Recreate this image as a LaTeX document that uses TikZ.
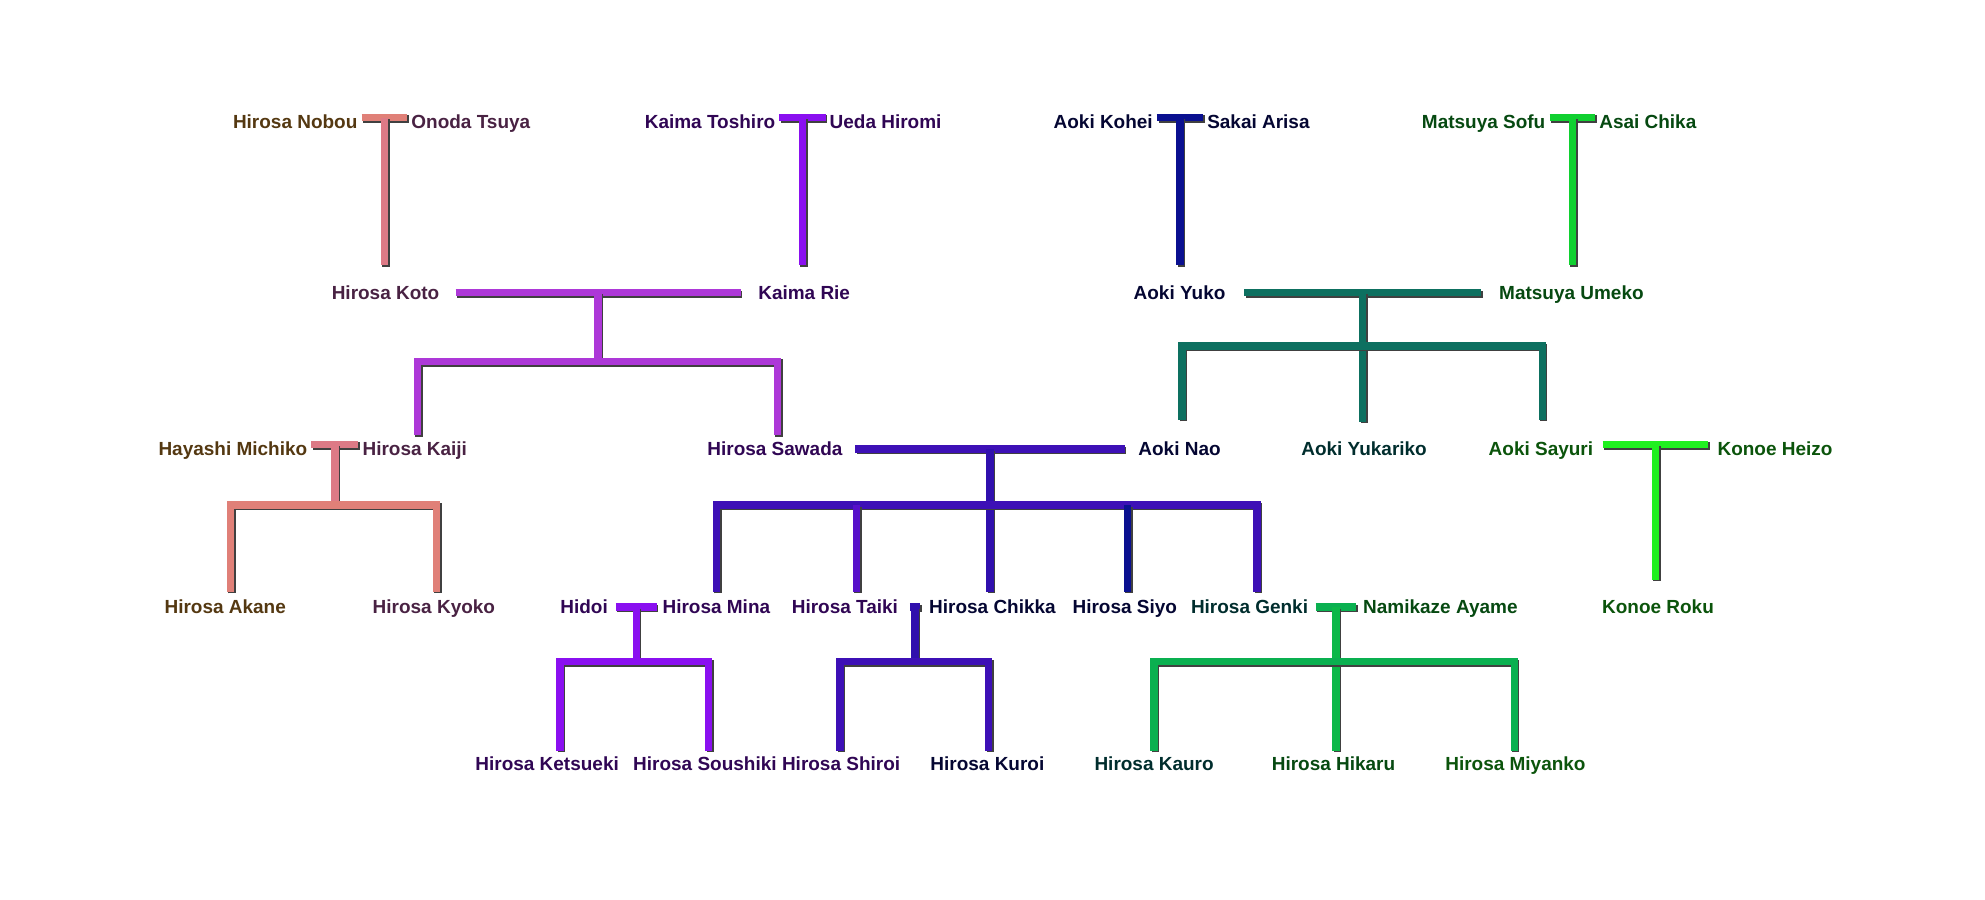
\documentclass[tikz,border=0pt]{standalone}
\usepackage{fontspec}
\setmainfont{Liberation Sans}
\usepackage{tikz}

\definecolor{nobou}{HTML}{F0A030}
\definecolor{tsuya}{HTML}{D060C0}
\definecolor{kaima}{HTML}{8A10F0}
\definecolor{aoki}{HTML}{0A1090}
\definecolor{matsu}{HTML}{10D030}
\definecolor{konoe}{HTML}{20F020}

\begin{document}
\begin{tikzpicture}[x=0.012724cm, y=-0.012724cm,
person/.style={font=\bfseries\fontsize{5.4}{7}\selectfont, text=#1!35!black, inner sep=1pt,
  text height=1.6ex, text depth=0.4ex, yshift=1.3pt},
bar/.style={line width=2.1pt, draw=#1,
  preaction={draw=black!75, line width=2.1pt, transform canvas={shift={(0.45pt,-0.45pt)}}}},
]
\useasboundingbox (0,0) rectangle (1560,707);

% Generation 1
\node[person=nobou] (nobou) at (232,96) {Hirosa Nobou};
\node[person=tsuya] (tsuya) at (370,96) {Onoda Tsuya};
\node[person=kaima] (toshiro) at (558,96) {Kaima Toshiro};
\node[person=kaima] (hiromi) at (696,96) {Ueda Hiromi};
\node[person=aoki] (kohei) at (867,96) {Aoki Kohei};
\node[person=aoki] (arisa) at (989,96) {Sakai Arisa};
\node[person=matsu] (sofu) at (1166,96) {Matsuya Sofu};
\node[person=matsu] (chika) at (1295,96) {Asai Chika};

% Generation 2
\node[person=tsuya] (koto) at (303,230) {Hirosa Koto};
\node[person=kaima] (rie) at (632,230) {Kaima Rie};
\node[person=aoki] (yuko) at (927,230) {Aoki Yuko};
\node[person=matsu] (umeko) at (1235,230) {Matsuya Umeko};

% Generation 3
\node[person=nobou] (michiko) at (183,353) {Hayashi Michiko};
\node[person=tsuya] (kaiji) at (326,353) {Hirosa Kaiji};
\node[person=kaima] (sawada) at (609,353) {Hirosa Sawada};
\node[person=aoki] (nao) at (927,353) {Aoki Nao};
\node[person=teal] (yukariko) at (1072,353) {Aoki Yukariko};
\node[person=konoe] (sayuri) at (1211,353) {Aoki Sayuri};
\node[person=konoe] (heizo) at (1395,353) {Konoe Heizo};

% Generation 4
\node[person=nobou] (akane) at (177,477) {Hirosa Akane};
\node[person=tsuya] (kyoko) at (341,477) {Hirosa Kyoko};
\node[person=kaima] (hidoi) at (459,477) {Hidoi};
\node[person=kaima] (mina) at (563,477) {Hirosa Mina};
\node[person=kaima] (taiki) at (664,477) {Hirosa Taiki};
\node[person=aoki] (chikka) at (780,477) {Hirosa Chikka};
\node[person=aoki] (siyo) at (884,477) {Hirosa Siyo};
\node[person=teal] (genki) at (982,477) {Hirosa Genki};
\node[person=matsu] (ayame) at (1132,477) {Namikaze Ayame};
\node[person=konoe] (roku) at (1303,477) {Konoe Roku};

% Generation 5
\node[person=kaima] (ketsueki) at (430,600) {Hirosa Ketsueki};
\node[person=kaima] (soushiki) at (554,600) {Hirosa Soushiki};
\node[person=kaima] (shiroi) at (661,600) {Hirosa Shiroi};
\node[person=aoki] (kuroi) at (776,600) {Hirosa Kuroi};
\node[person=teal] (kauro) at (907,600) {Hirosa Kauro};
\node[person=matsu] (hikaru) at (1048,600) {Hirosa Hikaru};
\node[person=konoe] (miyanko) at (1191,600) {Hirosa Miyanko};

% Single-child couples
\draw[bar=nobou!50!tsuya] (nobou.east) -- (tsuya.west) coordinate[pos=0.5] (m1);
\draw[bar=nobou!40!tsuya] (m1) -- (m1 |- koto.north);
\draw[bar=kaima] (toshiro.east) -- (hiromi.west) coordinate[pos=0.5] (m2);
\draw[bar=kaima] (m2) -- (m2 |- rie.north);
\draw[bar=aoki] (kohei.east) -- (arisa.west) coordinate[pos=0.5] (m3);
\draw[bar=aoki] (m3) -- (m3 |- yuko.north);
\draw[bar=matsu] (sofu.east) -- (chika.west) coordinate[pos=0.5] (m4);
\draw[bar=matsu] (m4) -- (m4 |- umeko.north);
\draw[bar=konoe] ([xshift=1.5]sayuri.east) -- ([xshift=-1.5]heizo.west) coordinate[pos=0.5] (m5);
\draw[bar=konoe] (m5) -- (m5 |- roku.north);

% Koto and Rie
\draw[bar=tsuya!50!kaima] (358,230) -- (582,230) coordinate[pos=0.5] (m6);
\draw[bar=tsuya!50!kaima] (m6) -- (470,284);
\draw[bar=tsuya!50!kaima] (328,342) |- (611,284) -- (611,342);

% Yuko and Umeko
\draw[bar=aoki!50!matsu] (978,230) -- (1164,230) coordinate[pos=0.5] (m7);
\draw[bar=aoki!50!matsu] (m7) -- (m7 |- yukariko.north);
\draw[bar=aoki!50!matsu] (929,330) |- (1212,272) -- (1212,330);

% Michiko and Kaiji
\draw[bar=nobou!40!tsuya] (michiko.east) -- (kaiji.west) coordinate[pos=0.5] (m8);
\draw[bar=nobou!40!tsuya] (m8) -- (m8 |- 0,397) coordinate (d8);
\draw[bar=nobou!50!tsuya] (181,465) |- (d8) -| (343,465);

% Sawada and Nao
\draw[bar=kaima!40!aoki] (672,353) -- (884,353) coordinate[pos=0.5] (m9);
\draw[bar=kaima!30!aoki] (m9) -- (778,465);
\draw[bar=kaima!40!aoki] (563,465) |- (778,397) -| (988,465);
\draw[bar=kaima!60!aoki] (673,397) -- (673,465);
\draw[bar=aoki] (886,397) -- (886,465);

% Hidoi and Mina
\draw[bar=kaima] (484,477) -- (516,477) coordinate[pos=0.5] (m10);
\draw[bar=kaima] (m10) -- ++(0,43) coordinate (d10);
\draw[bar=kaima] (440,590) |- (d10) -| (557,590);

% Taiki and Chikka
\draw[bar=kaima!30!aoki] (715,477) -- (723,477) coordinate[pos=0.5] (m11);
\draw[bar=kaima!30!aoki] (m11) -- ++(0,43) coordinate (d11);
\draw[bar=kaima!40!aoki] (660,590) |- (d11) -| (777,590);

% Genki and Ayame
\draw[bar=teal!40!matsu] (1034,477) -- (1066,477) coordinate[pos=0.5] (m12);
\draw[bar=teal!30!matsu] (m12) -- (1050,590);
\draw[bar=teal!40!matsu] (907,590) |- (1050,520) -| (1190,590);

\end{tikzpicture}
\end{document}
